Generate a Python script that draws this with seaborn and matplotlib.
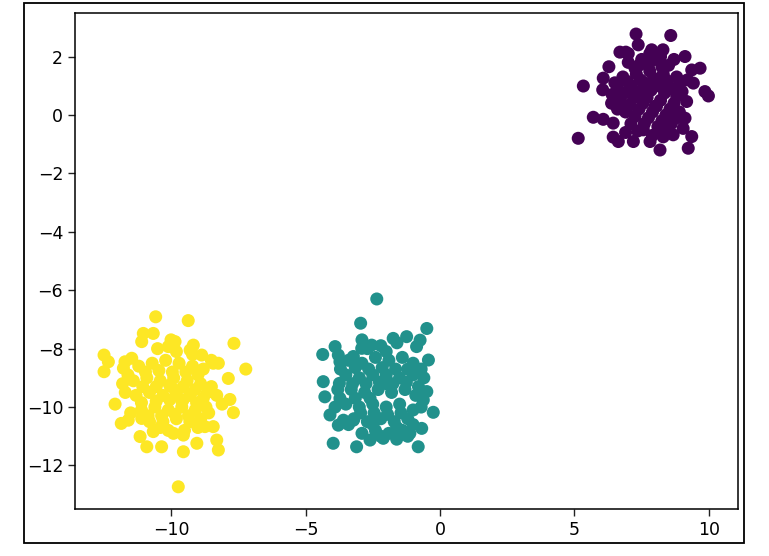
import matplotlib
matplotlib.use("Agg")
import matplotlib.pyplot as plt
from matplotlib.patches import Rectangle
import seaborn as sns
import pandas as pd

# ---- data ----
purple_x = [7.29, 8.58, 7.37, 6.69, 6.91, 7.87, 8.29, 9.11, 6.28, 9.67, 9.36, 5.33, 6.07, 6.05,
            9.42, 9.85, 9.98, 9.17, 6.38, 5.70, 6.07, 6.44, 9.11, 9.04, 5.14, 6.44, 6.63, 7.19,
            7.81, 8.18, 9.23, 8.67, 9.36, 7.56,
            7.0, 7.5, 8.0, 8.5, 6.8, 7.3, 7.8, 8.3, 8.8, 6.6, 7.1, 7.6, 8.1, 8.6, 9.0, 6.7,
            7.2, 7.7, 8.2, 8.7, 6.9, 7.4, 7.9, 8.4, 8.8, 7.1, 7.6, 8.1, 8.5, 7.4, 8.2, 6.9,
            7.9, 8.9, 6.5, 8.0, 7.5, 8.4, 7.0, 7.8,
            7.25, 7.75, 8.25, 6.95, 7.45, 7.95, 8.45, 8.9, 6.85, 7.35, 7.85, 8.35, 8.8, 7.05,
            7.55, 8.05, 8.55, 7.25, 7.75, 8.25, 8.6, 7.35, 8.3, 6.6, 6.4, 9.2, 7.0, 8.7]
purple_y = [2.77, 2.72, 2.40, 2.15, 2.15, 2.23, 2.23, 2.00, 1.65, 1.60, 1.54, 0.99, 1.26, 0.86,
            1.09, 0.80, 0.65, 0.46, 0.40, -0.08, -0.15, -0.28, -0.11, -0.46, -0.80, -0.76, -0.91, -0.91,
            -0.91, -1.20, -1.14, -0.68, -0.74, -0.51,
            1.8, 1.9, 1.9, 1.7, 1.3, 1.4, 1.5, 1.4, 1.3, 0.9, 1.0, 1.1, 1.0, 0.9, 0.8, 0.5,
            0.6, 0.6, 0.5, 0.4, 0.1, 0.2, 0.1, 0.0, -0.1, -0.3, -0.3, -0.4, -0.5, 1.7, 2.0, -0.6,
            -0.7, 0.1, 1.1, 0.3, 0.8, 1.2, 0.3, 2.1,
            1.6, 1.7, 1.65, 1.15, 1.2, 1.25, 1.15, 1.05, 0.75, 0.8, 0.85, 0.75, 0.65, 0.35,
            0.4, 0.3, 0.2, -0.05, -0.1, -0.2, -0.3, -0.55, -0.75, 0.2, 0.7, 1.2, 2.1, 1.9]

teal_x = [-2.35, -2.95, -0.49, -0.74, -0.87, -1.24, -1.74, -4.36, -3.90, -3.78, -3.72, -3.22,
          -2.91, -2.54, -0.43, -4.34, -4.28, -3.74, -3.72, -4.09, -0.25, -0.49, -0.62, -3.97,
          -3.10, -2.60, -2.11, -1.61, -0.81, -1.12, -0.68, -3.59, -3.22, -3.78,
          -3.4, -2.9, -2.4, -1.9, -1.4, -1.0, -3.5, -3.0, -2.5, -2.0, -1.5, -1.0, -3.3, -2.8,
          -2.3, -1.8, -1.3, -0.8, -3.5, -3.0, -2.5, -2.0, -1.5, -1.0, -3.2, -2.7, -2.2, -1.7,
          -1.2, -2.9, -2.4, -1.9, -1.4, -2.7, -2.2, -1.6, -3.8, -0.7, -2.6, -2.0,
          -3.15, -2.65, -2.15, -1.65, -1.2, -3.25, -2.75, -2.25, -1.75, -1.25, -0.9, -3.15,
          -2.45, -1.95, -1.45, -2.95, -3.4, -2.5, -1.6, -1.0, -2.9, -2.0, -3.7, -0.7, -3.9,
          -2.2, -1.2, -0.6]
teal_y = [-6.30, -7.13, -7.31, -7.71, -7.93, -7.59, -7.65, -8.20, -7.93, -8.22, -8.45, -8.27,
          -7.99, -7.88, -8.39, -9.13, -9.65, -9.19, -9.70, -10.27, -10.18, -9.47, -9.76, -11.24,
          -11.36, -11.13, -11.07, -11.10, -11.36, -10.90, -10.73, -10.45, -10.45, -10.62,
          -8.4, -8.5, -8.3, -8.4, -8.3, -8.5, -8.9, -9.0, -8.9, -8.9, -9.0, -8.9, -9.4, -9.5,
          -9.4, -9.5, -9.4, -9.3, -9.9, -10.0, -9.9, -10.0, -9.9, -10.1, -10.4, -10.5, -10.4, -10.5,
          -10.4, -10.9, -10.8, -10.9, -10.8, -8.0, -7.9, -7.8, -9.4, -10.0, -9.7, -9.2,
          -8.65, -8.7, -8.65, -8.7, -8.7, -9.2, -9.2, -9.15, -9.2, -9.15, -9.6, -9.7,
          -10.2, -10.25, -10.2, -10.2, -10.6, -10.6, -10.7, -10.6, -7.7, -8.1, -8.7, -8.7, -10.0,
          -11.0, -11.0, -9.0]

yellow_x = [-10.57, -9.36, -11.03, -10.66, -11.09, -9.85, -10.10, -9.17, -9.29, -7.66, -12.49,
            -12.33, -12.49, -11.71, -11.46, -11.77, -8.86, -8.24, -8.43, -7.87, -7.22, -12.08,
            -7.81, -7.68, -11.85, -11.59, -11.09, -11.15, -10.90, -10.35, -9.54, -9.04, -8.30,
            -8.24, -8.43, -8.74, -9.73, -10.66, -9.91, -9.54,
            -11.2, -10.7, -10.2, -9.7, -9.2, -8.8, -11.4, -10.9, -10.4, -9.9, -9.4, -8.9, -8.5,
            -11.3, -10.8, -10.3, -9.8, -9.3, -8.8, -11.1, -10.6, -10.1, -9.6, -9.1, -8.6, -10.8,
            -10.3, -9.8, -9.3, -8.9, -10.5, -9.8, -9.2, -11.7, -10.1, -9.5, -8.3, -11.5, -10.0, -9.6,
            -10.95, -10.45, -9.95, -9.45, -9.0, -11.05, -10.55, -10.05, -9.55, -9.1, -8.65,
            -11.1, -10.55, -10.05, -9.55, -9.05, -8.7, -10.85, -10.35, -9.85, -9.35, -9.0,
            -10.4, -11.6, -8.5, -10.0, -11.8, -8.1]
yellow_y = [-6.91, -7.04, -7.48, -7.48, -7.76, -7.76, -7.93, -7.88, -8.05, -7.82, -8.22,
            -8.45, -8.79, -8.45, -8.33, -8.67, -8.22, -8.50, -8.50, -9.02, -8.70, -9.90,
            -9.74, -10.19, -10.56, -10.45, -10.39, -11.01, -11.36, -11.36, -11.53, -11.24, -11.13,
            -11.47, -10.67, -10.67, -12.73, -10.84, -10.90, -10.96,
            -8.6, -8.5, -8.4, -8.5, -8.6, -8.7, -9.1, -9.0, -9.1, -9.0, -9.1, -9.2, -9.3,
            -9.6, -9.5, -9.6, -9.5, -9.6, -9.7, -10.1, -10.0, -10.1, -10.0, -10.1, -10.2, -10.5,
            -10.5, -10.4, -10.5, -10.4, -8.0, -8.1, -8.2, -9.5, -10.8, -10.8, -9.6, -10.2, -9.3, -9.8,
            -8.8, -8.75, -8.8, -8.8, -8.9, -9.3, -9.3, -9.25, -9.3, -9.4, -9.5,
            -9.85, -9.8, -9.75, -9.75, -9.85, -10.0, -10.3, -10.3, -10.25, -10.3, -10.7,
            -10.7, -8.9, -8.4, -7.7, -9.2, -9.9]

x_ticks = [-10, -5, 0, 5, 10]
y_ticks = [2, 0, -2, -4, -6, -8, -10, -12]
colors = ["#440154", "#21918c", "#fde725"]

df = pd.DataFrame({
    "x": purple_x + teal_x + yellow_x,
    "y": purple_y + teal_y + yellow_y,
    "label": [0] * len(purple_x) + [1] * len(teal_x) + [2] * len(yellow_x),
})

W, H = 769, 556
fig = plt.figure(figsize=(W / 100, H / 100), dpi=100)
ax = fig.add_axes([75 / W, 1 - 509 / H, (738 - 75) / W, (509 - 13) / H])

sns.scatterplot(data=df, x="x", y="y", hue="label", palette=colors, s=88,
                linewidth=0, legend=False, ax=ax)

ax.set_xlim(-13.57, 11.08)
ax.set_ylim(-13.49, 3.49)
ax.set_xticks(x_ticks)
ax.set_yticks(y_ticks)
ax.set_xlabel("")
ax.set_ylabel("")
ax.tick_params(labelsize=12.5, length=5, width=1, color="#222222")
for sp in ax.spines.values():
    sp.set_linewidth(1.1)

fig.add_artist(Rectangle((24 / W, 1 - 543 / H), (744 - 24) / W, (543 - 3) / H,
                         transform=fig.transFigure, fill=False, edgecolor="black", lw=1.3))

fig.savefig("out.png", dpi=100)
